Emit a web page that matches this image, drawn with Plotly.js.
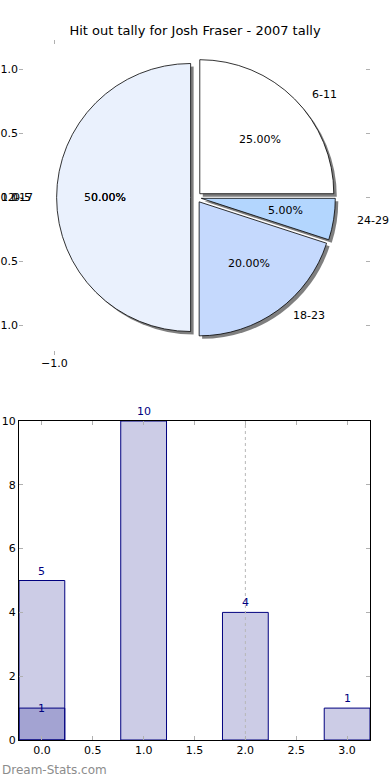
<!DOCTYPE html>
<html>
<head>
<meta charset="utf-8">
<script src="https://cdn.plot.ly/plotly-3.0.1.min.js"></script>
<style>html,body{margin:0;padding:0;background:#fff;}#chart{width:390px;height:780px;}</style>
</head>
<body>
<div id="chart"></div>
<script>
// ---- data ----
var title = "Hit out tally for Josh Fraser - 2007 tally";
var pieCategories = ["0-5", "6-11", "12-17", "18-23", "24-29"];
var pieValues = [0, 5, 10, 4, 1];
var pieColors = ["#ffffff", "#ffffff", "#eaf1fd", "#c5d9fd", "#b3d6fe"];

var barX = [0, 1, 2, 3];
var barValues = [5, 10, 4, 1];
var overlayValues = [1, 0, 0, 0];
var markerLineX = [2];
var barTickVals = [0, 0.5, 1, 1.5, 2, 2.5, 3];
var barTickText = ["0.0", "0.5", "1.0", "1.5", "2.0", "2.5", "3.0"];
var barYTicks = [0, 2, 4, 6, 8, 10];
var pieYTicks = [-1, -0.5, 0, 0.5, 1];
var pieYTickText = ["\u22121.0", "\u22120.5", "0.0", "0.5", "1.0"];
var pieXTicks = [-1];
var pieXTickText = ["\u22121.0"];
var watermark = "Dream-Stats.com";

// ---- build ----
var FONT = "DejaVu Sans, Arial, sans-serif";
var NAVY = "#00007f";
var TICKC = "#b0b0b0";
var pull = 0.04;

var pl = [], pv = [], pc = [];
for (var i = 0; i < pieCategories.length; i++) {
  if (pieValues[i] > 0) { pl.push(pieCategories[i]); pv.push(pieValues[i]); pc.push(pieColors[i]); }
}
var total = pv.reduce(function (a, b) { return a + b; }, 0);

var pieDomX = [0.1071, 0.9014], pieDomY = [0.5759, 0.9741];
var dx = 3 / 351, dy = 3 / 700;

var shadow = {
  type: "pie", labels: pl, values: pv, sort: false, direction: "counterclockwise", rotation: 0,
  pull: pv.map(function () { return pull; }),
  marker: { colors: pv.map(function () { return "rgba(0,0,0,0.5)"; }), line: { width: 0 } },
  textinfo: "none", hoverinfo: "skip", showlegend: false,
  domain: { x: [pieDomX[0] + dx, pieDomX[1] + dx], y: [pieDomY[0] - dy, pieDomY[1] - dy] }
};
var pie = {
  type: "pie", labels: pl, values: pv, sort: false, direction: "counterclockwise", rotation: 0,
  pull: pv.map(function () { return pull; }),
  marker: { colors: pc, line: { color: "#000", width: 0.8 } },
  textinfo: "none", showlegend: false,
  domain: { x: pieDomX, y: pieDomY }
};

var barsMain = {
  type: "bar", x: barX, y: barValues, width: 0.45, xaxis: "x", yaxis: "y",
  marker: { color: "rgba(0,0,128,0.2)", line: { color: NAVY, width: 1 } }, showlegend: false
};
var ox = [], oy = [];
for (var k = 0; k < barX.length; k++) if (overlayValues[k] > 0) { ox.push(barX[k]); oy.push(overlayValues[k]); }
var barsOverlay = {
  type: "bar", x: ox, y: oy, width: 0.45, xaxis: "x", yaxis: "y",
  marker: { color: "rgba(0,0,128,0.2)", line: { color: NAVY, width: 1 } }, showlegend: false
};
var vline = {
  type: "scatter", mode: "lines", x: [markerLineX[0], markerLineX[0]], y: [0, 10],
  line: { color: "#b8b8b8", width: 1, dash: "dot" }, xaxis: "x", yaxis: "y", showlegend: false, hoverinfo: "skip"
};
// dummy invisible trace to activate the pie frame axes
var frame = { type: "scatter", mode: "markers", x: [0], y: [0], xaxis: "x2", yaxis: "y2",
  marker: { opacity: 0 }, showlegend: false, hoverinfo: "skip" };

var annotations = [];
// pie labels (matplotlib style: label at 1.1 r, pct at 0.6 r)
var ang = 0;
for (var j = 0; j < pl.length; j++) {
  var frac = pv[j] / total;
  var mid = (ang + frac * 180) * Math.PI / 180;
  ang += frac * 360;
  var c = Math.cos(mid), s = Math.sin(mid);
  annotations.push({ xref: "x2", yref: "y2", x: (pull + 1.1) * c, y: (pull + 1.1) * s,
    text: pl[j], showarrow: false, xanchor: c > 0 ? "left" : "right", yanchor: "middle",
    font: { family: FONT, size: 11, color: "#000" } });
  annotations.push({ xref: "x2", yref: "y2", x: (pull + 0.6) * c, y: (pull + 0.6) * s,
    text: (frac * 100).toFixed(2) + "%", showarrow: false, xanchor: "center", yanchor: "middle",
    font: { family: FONT, size: 11, color: "#000" } });
}
// empty buckets: label drawn on the left, as in the source image
for (var z = 0; z < pieCategories.length; z++) {
  if (pieValues[z] === 0) {
    annotations.push({ xref: "x2", yref: "y2", x: -(pull + 1.1), y: 0, text: pieCategories[z], showarrow: false,
      xanchor: "right", yanchor: "middle", xshift: -2, font: { family: FONT, size: 11, color: "#000" } });
    annotations.push({ xref: "x2", yref: "y2", x: -(pull + 0.6), y: 0, text: "0.00%", showarrow: false,
      xanchor: "center", yanchor: "middle", xshift: 3, font: { family: FONT, size: 11, color: "#000" } });
  }
}
// bar value labels
for (var b = 0; b < barX.length; b++) {
  annotations.push({ xref: "x", yref: "y", x: barX[b], y: barValues[b], text: String(barValues[b]),
    showarrow: false, yanchor: "bottom", yshift: 1, font: { family: FONT, size: 11, color: NAVY } });
}
for (var q = 0; q < ox.length; q++) {
  annotations.push({ xref: "x", yref: "y", x: ox[q], y: oy[q], text: String(oy[q]),
    showarrow: false, yanchor: "middle", font: { family: FONT, size: 11, color: NAVY } });
}
annotations.push({ xref: "paper", yref: "paper", x: -19 / 351, y: -30 / 700, text: watermark, showarrow: false,
  xanchor: "left", yanchor: "middle", font: { family: FONT, size: 12, color: "#8c8c8c" } });

var layout = {
  width: 390, height: 780,
  margin: { l: 19, r: 20, t: 40, b: 40, pad: 0 },
  paper_bgcolor: "#fff", plot_bgcolor: "rgba(0,0,0,0)",
  font: { family: FONT, size: 11, color: "#000" },
  title: { text: title, x: 0.5, xref: "container", y: 1 - 30 / 780, yref: "container", yanchor: "middle",
    font: { family: FONT, size: 13, color: "#000" } },
  barmode: "overlay",
  showlegend: false,
  xaxis: { domain: [0, 1], anchor: "y", range: [-0.225, 3.225], tickvals: barTickVals, ticktext: barTickText,
    ticks: "inside", ticklen: 4, tickcolor: TICKC, tickwidth: 1, showline: true, linecolor: "#000", linewidth: 1,
    mirror: "ticks", showgrid: false, zeroline: false, automargin: false, fixedrange: true,
    tickfont: { family: FONT, size: 11, color: "#000" } },
  yaxis: { domain: [0, 319 / 700], anchor: "x", range: [0, 10], tickvals: barYTicks,
    ticks: "inside", ticklen: 4, tickcolor: TICKC, tickwidth: 1, showline: true, linecolor: "#000", linewidth: 1,
    mirror: "ticks", showgrid: false, zeroline: false, automargin: false, fixedrange: true,
    tickfont: { family: FONT, size: 11, color: "#000" } },
  xaxis2: { domain: [0, 1], anchor: "y2", range: [-1.25, 1.23], tickvals: pieXTicks, ticktext: pieXTickText,
    ticks: "inside", ticklen: 4, tickcolor: TICKC, tickwidth: 1, showline: false, mirror: "ticks",
    showgrid: false, zeroline: false, automargin: false, fixedrange: true,
    tickfont: { family: FONT, size: 11, color: "#000" } },
  yaxis2: { domain: [385 / 700, 1], anchor: "x2", range: [-1.23, 1.23], tickvals: pieYTicks, ticktext: pieYTickText,
    ticks: "inside", ticklen: 4, tickcolor: TICKC, tickwidth: 1, showline: false, mirror: "ticks",
    showgrid: false, zeroline: false, automargin: false, fixedrange: true,
    tickfont: { family: FONT, size: 11, color: "#000" } },
  annotations: annotations
};

Plotly.newPlot("chart", [frame, barsMain, barsOverlay, vline, shadow, pie], layout, { displayModeBar: false, staticPlot: true });
</script>
</body>
</html>
